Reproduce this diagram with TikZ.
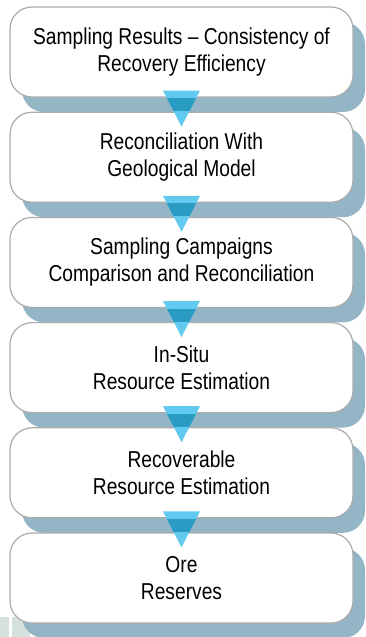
\documentclass[tikz,border=0pt]{standalone}
\usepackage{fontspec}
\setmainfont[FakeStretch=0.835]{Liberation Sans}
\usetikzlibrary{calc}
\definecolor{shadowc}{HTML}{93B5C6}
\definecolor{borderc}{HTML}{ABABAB}
\definecolor{triL}{HTML}{62C9EF}
\definecolor{triD}{HTML}{2A9BC3}
\definecolor{grayblk}{HTML}{D4E1DE}
\tikzset{
  stepbox/.style={draw=borderc, line width=1.2pt, fill=white, rounded corners=22pt,
    minimum width=343pt, minimum height=90pt, inner sep=0pt, align=center,
    font=\fontsize{23}{27}\selectfont},
  shadowbox/.style={fill=shadowc, rounded corners=22pt},
}
\begin{document}
\begin{tikzpicture}[x=1pt,y=-1pt]
\useasboundingbox (0,0) rectangle (365,637);
\fill[grayblk] (0,617) rectangle (9,637);
\fill[grayblk] (12,617) rectangle (30,637);
\foreach \i/\t in {
  0/{Sampling Results – Consistency of\\Recovery Efficiency},
  1/{Reconciliation With\\Geological Model},
  2/{Sampling Campaigns\\Comparison and Reconciliation},
  3/{In-Situ\\Resource Estimation},
  4/{Recoverable\\Resource Estimation},
  5/{Ore\\Reserves}}{
  \pgfmathsetmacro{\cy}{52+105.2*\i}
  \fill[shadowbox] (22,\cy-30) rectangle (365,\cy+60);
  \node[stepbox] (b\i) at (181.5,\cy) {\t};
}
\foreach \i [evaluate=\i as \j using int(\i+1)] in {0,...,4}{
  \fill[triL] ($(b\i.south)+(-18.5,-7)$) -- ($(b\i.south)+(18.5,-7)$) -- ($(b\j.north)+(0,15)$) -- cycle;
  \begin{scope}
    \clip ($(b\i.south)+(-40,1)$) rectangle ($(b\j.north)+(40,-1)$);
    \fill[triD] ($(b\i.south)+(-18.5,-7)$) -- ($(b\i.south)+(18.5,-7)$) -- ($(b\j.north)+(0,15)$) -- cycle;
  \end{scope}
}
\end{tikzpicture}
\end{document}
